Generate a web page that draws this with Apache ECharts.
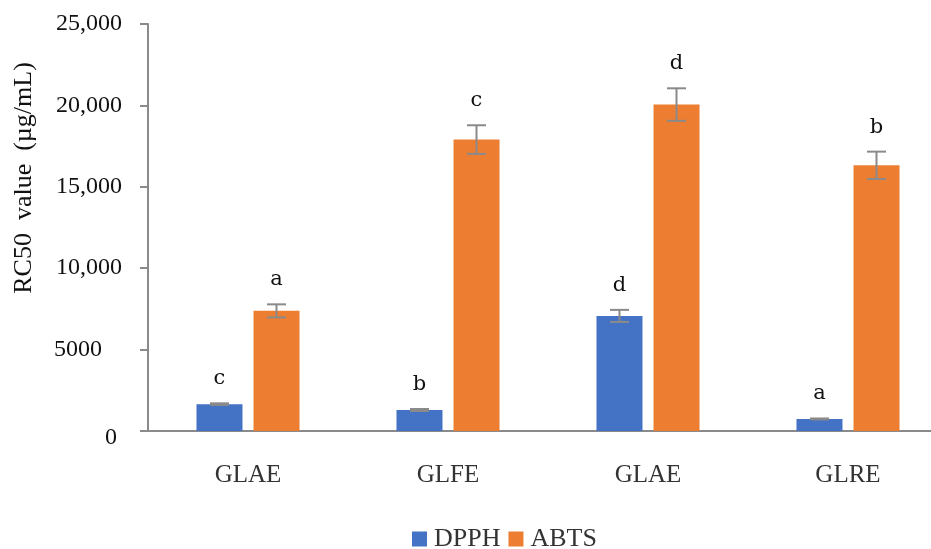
<!DOCTYPE html>
<html>
<head>
<meta charset="utf-8">
<script src="https://cdn.jsdelivr.net/npm/echarts@6/dist/echarts.min.js"></script>
<style>
html,body{margin:0;padding:0;background:#fff;overflow:hidden;width:931px;height:549px;}
#chart{width:960px;height:549px;}
</style>
</head>
<body>
<div id="chart"></div>
<script>
const categories = ['GLAE', 'GLFE', 'GLAE', 'GLRE'];
const seriesNames = ['DPPH', 'ABTS'];
const dpphValues = [1650, 1290, 7070, 740];
const abtsValues = [7380, 17900, 20050, 16320];
const dpphErrors = [50, 60, 370, 30];
const abtsErrors = [400, 880, 1000, 840];
const dpphLetters = ['c', 'b', 'd', 'a'];
const abtsLetters = ['a', 'c', 'd', 'b'];
const yMin = 0, yMax = 25000, yStep = 5000;

const BLUE = '#4472C4', ORANGE = '#ED7D31', GRAY = '#8a8a8a';
const serif = "'Liberation Serif', 'DejaVu Serif', serif";
const slab = "'DejaVu Serif', 'Liberation Serif', serif";

function fmt(v) {
  if (v === 0) return '{z|0}';
  if (v < 10000) return '{f|' + v + '}';
  return v.toLocaleString('en-US');
}

function errorSeries(values, errors, letters, sign) {
  return {
    type: 'custom',
    z: 5,
    data: values.map((v, i) => [i, v, errors[i]]),
    renderItem: function (params, api) {
      const i = params.dataIndex;
      const x = api.value(0), v = api.value(1), e = api.value(2);
      const band = api.size([1, 0])[0];
      const off = sign * band * 0.1425;
      const t = api.coord([x, v + e]);
      const b = api.coord([x, v - e]);
      const cx = t[0] + off;
      const hw = 9.5;
      const ls = { stroke: GRAY, lineWidth: 2 };
      return {
        type: 'group',
        children: [
          { type: 'line', shape: { x1: cx, y1: t[1], x2: cx, y2: b[1] }, style: ls },
          { type: 'line', shape: { x1: cx - hw, y1: t[1], x2: cx + hw, y2: t[1] }, style: ls },
          { type: 'line', shape: { x1: cx - hw, y1: b[1], x2: cx + hw, y2: b[1] }, style: ls },
          { type: 'text', style: { text: letters[i], x: cx, y: t[1] - 14, align: 'center', verticalAlign: 'bottom', font: "21px " + slab, fill: '#111' } }
        ]
      };
    }
  };
}

const chart = echarts.init(document.getElementById('chart'), null, { renderer: 'canvas' });
chart.setOption({
  backgroundColor: '#fff',
  animation: false,
  grid: { left: 148, top: 24, width: 800, height: 407, containLabel: false },
  legend: {
    data: seriesNames,
    left: 407,
    top: 521,
    itemWidth: 15,
    itemHeight: 15,
    itemGap: 8,
    icon: 'rect',
    textStyle: { fontFamily: serif, fontSize: 26, color: '#333', padding: [0, 0, 0, 2], lineHeight: 24 }
  },
  graphic: [{
    type: 'text',
    x: 24, y: 178,
    rotation: Math.PI / 2,
    style: { text: 'RC50  value  (\u00b5g/mL)', font: "26px " + serif, fill: '#111', align: 'center', verticalAlign: 'middle' }
  }],
  xAxis: {
    type: 'category',
    data: categories,
    axisTick: { show: false },
    axisLine: { lineStyle: { color: GRAY, width: 2 } },
    axisLabel: { margin: 32, fontFamily: serif, fontSize: 25, color: '#333' }
  },
  yAxis: {
    type: 'value',
    min: yMin, max: yMax, interval: yStep,
    splitLine: { show: false },
    axisLine: { show: true, lineStyle: { color: GRAY, width: 2 } },
    axisTick: { show: true, length: 8, lineStyle: { color: GRAY, width: 2 } },
    axisLabel: {
      align: 'right', margin: 26, fontFamily: serif, fontSize: 24, color: '#111',
      formatter: fmt,
      rich: {
        z: { fontFamily: serif, fontSize: 24, color: '#111', padding: [14, 5, 0, 0] },
        f: { fontFamily: serif, fontSize: 24, color: '#111', padding: [0, 20, 0, 0] }
      }
    }
  },
  series: [
    { name: seriesNames[0], type: 'bar', data: dpphValues, barWidth: 46, barGap: '24%', itemStyle: { color: BLUE } },
    { name: seriesNames[1], type: 'bar', data: abtsValues, barWidth: 46, barGap: '24%', itemStyle: { color: ORANGE } },
    errorSeries(dpphValues, dpphErrors, dpphLetters, -1),
    errorSeries(abtsValues, abtsErrors, abtsLetters, 1)
  ]
});
</script>
</body>
</html>
